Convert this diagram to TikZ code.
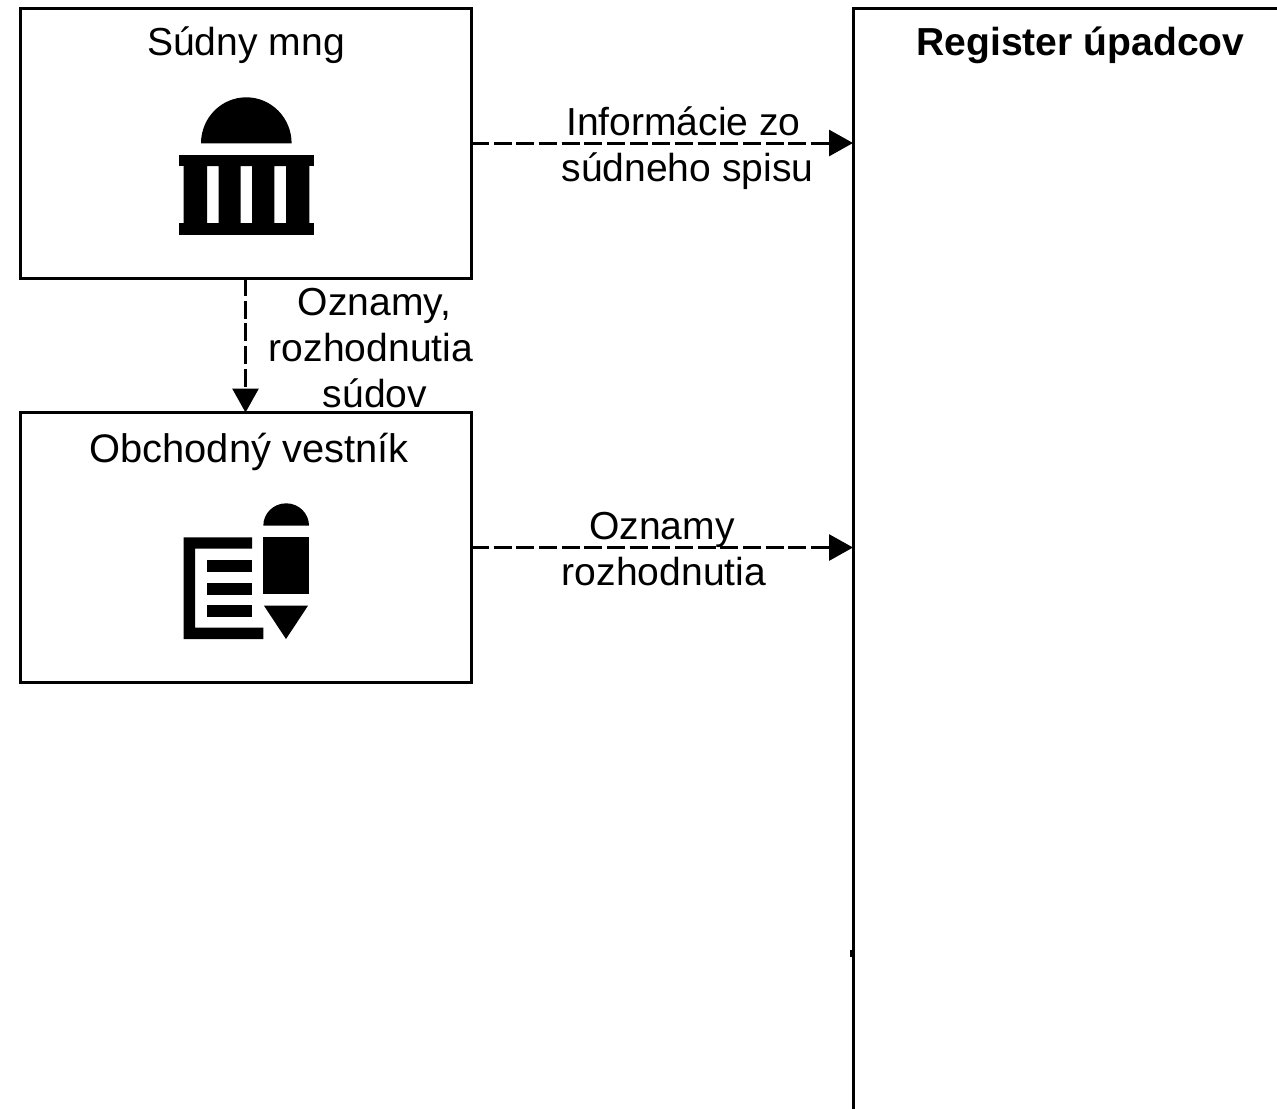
\documentclass[tikz,border=0pt]{standalone}
\usepackage{fontspec}
\setmainfont{Liberation Sans}
\usetikzlibrary{arrows.meta}
\tikzset{
  x=0.75pt,y=-0.75pt,
  boxnode/.style={draw=black,line width=2.25pt,fill=white,minimum width=338.25pt,minimum height=202.5pt,inner sep=0pt,outer sep=0pt},
  regbox/.style={draw=black,line width=2.25pt,fill=white,minimum width=375pt,minimum height=900pt,inner sep=0pt,outer sep=0pt},
  flow/.style={draw=black,line width=2.25pt,dash pattern=on 13.5pt off 3.5pt,-{Triangle[length=18pt,width=19.5pt,sep=0pt]}},
  lab/.style={font=\fontsize{29.3}{34.5}\selectfont,inner sep=0pt,outer sep=0pt,text=black},
  glyph/.style={fill=black,draw=none}
}
\begin{document}
\begin{tikzpicture}
\useasboundingbox (0,0) rectangle (1277,1108);
\clip (0,0) rectangle (1277,1108);
\node[boxnode] (court) at (245.5,143) {};
\node[boxnode] (gazette) at (245.5,547.5) {};
\node[regbox] (reg) at (1103,608) {};
\node[lab] (courtt) at (246,45) {Súdny mng};
\node[lab,font=\fontsize{29.9}{34.5}\selectfont] (gazt) at (249,452) {Obchodný vestník};
\node[lab,font=\fontsize{29.3}{34.5}\selectfont\bfseries] (regt) at (1080.5,45) {Register úpadcov};
\draw[flow] (court.east) -- (reg.west |- court.east);
\draw[flow] (gazette.east) -- (reg.west |- gazette.east);
\draw[flow] (court.south) -- (gazette.north);
\node[lab,align=center] (l1) at (687.5,148) {Informácie zo\hspace*{6pt}\\súdneho spisu};
\node[lab,align=center] (l2) at (664,549) {Oznamy\hspace*{3pt}\\rozhodnutia};
\node[lab,align=center] (l3) at (371,348) {\hspace*{5pt}Oznamy,\\rozhodnutia\\\hspace*{6pt}súdov};
% court icon
\fill[glyph] (201,143.3) arc[start angle=180,end angle=0,x radius=45.3,y radius=-46];
\fill[glyph] (178.7,154.7) rectangle (314,166);
\fill[glyph] (178.7,223.3) rectangle (314,234.7);
\fill[glyph,even odd rule] (183.7,166) rectangle (309.3,223.3) (207,166) rectangle (218.7,223.3) (240.7,166) rectangle (252,223.3) (274.3,166) rectangle (286,223.3);
% gazette icon
\fill[glyph] (263.3,525.7) arc[start angle=180,end angle=0,x radius=22.85,y radius=-22.4];
\fill[glyph] (263.3,537.3) rectangle (309,594.3);
\fill[glyph] (264,605.7) -- (308,605.7) -- (286,639) -- cycle;
\fill[glyph] (183.7,537.3) -- (252,537.3) -- (252,548.7) -- (195,548.7) -- (195,627.7) -- (263.3,627.7) -- (263.3,639) -- (183.7,639) -- cycle;
\fill[glyph] (207,560) rectangle (252,571.7);
\fill[glyph] (207,583.3) rectangle (252,595);
\fill[glyph] (207,605.3) rectangle (252,616.7);
% small tick on the register's edge
\fill[glyph] (850,950) rectangle (853,957);
\end{tikzpicture}
\end{document}
